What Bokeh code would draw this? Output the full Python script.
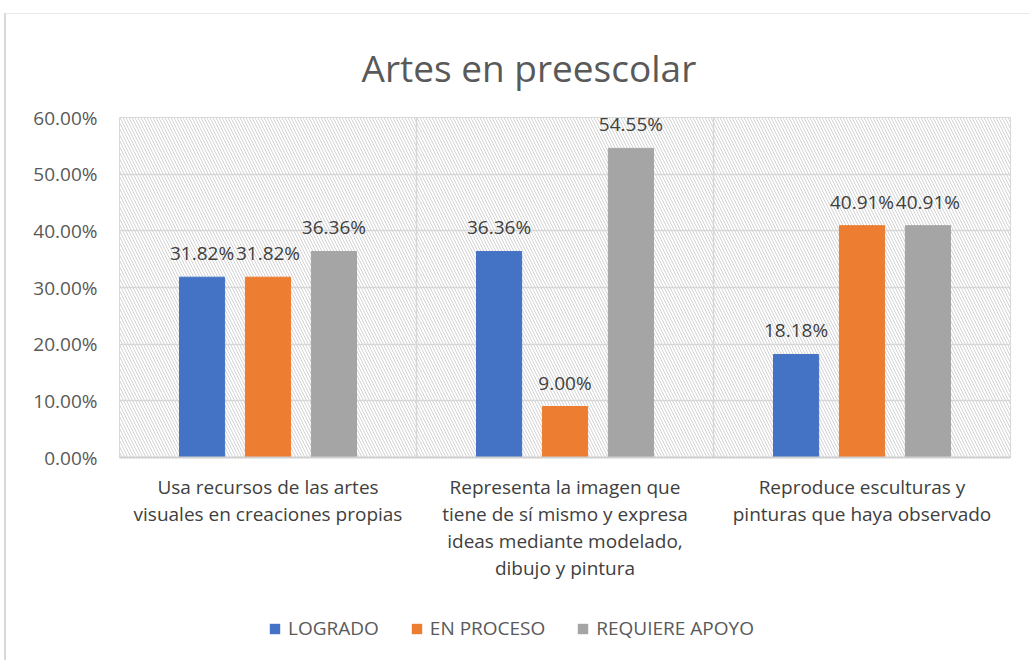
from bokeh.plotting import figure
from bokeh.layouts import column
from bokeh.models import (ColumnDataSource, Legend, LegendItem, BoxAnnotation,
                          FixedTicker, NumeralTickFormatter, Range1d, LabelSet)
from bokeh.embed import file_html
from bokeh.resources import INLINE
from bokeh.core.properties import value

categories = [
    "Usa recursos de las artes\nvisuales en creaciones propias",
    "Representa la imagen que\ntiene de sí mismo y expresa\nideas mediante modelado,\ndibujo y pintura",
    "Reproduce esculturas y\npinturas que haya observado",
]
series_names = ["LOGRADO", "EN PROCESO", "REQUIERE APOYO"]
logrado = [31.82, 36.36, 18.18]
en_proceso = [31.82, 9.00, 40.91]
requiere_apoyo = [36.36, 54.55, 40.91]
y_ticks = [0, 10, 20, 30, 40, 50, 60]

colors = ["#4472C4", "#ED7D31", "#A5A5A5"]
FONT = "Open Sans"
series = [logrado, en_proceso, requiere_apoyo]
offsets = [-0.222, 0.0, 0.222]

p = figure(frame_width=891, frame_height=340, output_backend="svg", toolbar_location=None,
           x_range=Range1d(-0.5, 2.5), y_range=Range1d(0, 60),
           min_border_left=113, min_border_right=19, min_border_top=103,
           min_border_bottom=136, title="Artes en preescolar")

p.title.text_font = FONT
p.title.text_font_size = "37px"
p.title.text_font_style = "normal"
p.title.text_color = "#595959"
p.title.align = "left"
p.title.offset = 242
p.title.standoff = 50

p.background_fill_color = "white"
p.border_fill_color = "white"
p.outline_line_color = "#d9d9d9"
p.outline_line_width = 1

hatch = BoxAnnotation(fill_alpha=0, line_alpha=0, hatch_pattern="\\",
                      hatch_color="#d3d3d3", hatch_scale=6, hatch_weight=1,
                      level="underlay")
p.add_layout(hatch)

for name, vals, off, col in zip(series_names, series, offsets, colors):
    src = ColumnDataSource(dict(
        x=[i + off for i in range(len(vals))],
        top=vals,
        lab=["%.2f%%" % v for v in vals],
    ))
    p.vbar(x="x", top="top", width=0.152, source=src, fill_color=col,
           line_color=col)
    lbl = LabelSet(x="x", y="top", text="lab", source=src, text_align="center",
                   text_baseline="bottom", y_offset=11, text_font=value(FONT),
                   text_font_size="19px", text_color="#404040")
    p.add_layout(lbl)

p.yaxis.ticker = FixedTicker(ticks=y_ticks)
p.yaxis.formatter = NumeralTickFormatter(format="0.00")
p.yaxis.major_label_overrides = {t: "%.2f%%" % t for t in y_ticks}
p.yaxis.axis_line_color = None
p.yaxis.major_tick_line_color = None
p.yaxis.minor_tick_line_color = None
p.yaxis.major_label_text_font = FONT
p.yaxis.major_label_text_font_size = "19px"
p.yaxis.major_label_text_color = "#595959"
p.yaxis.major_label_standoff = 16

p.xaxis.ticker = FixedTicker(ticks=[0, 1, 2])
p.xaxis.major_label_overrides = {i: c for i, c in enumerate(categories)}
p.xaxis.axis_line_color = "#d0d0d0"
p.xaxis.axis_line_width = 2
p.xaxis.major_tick_line_color = None
p.xaxis.minor_tick_line_color = None
p.xaxis.major_label_text_font = FONT
p.xaxis.major_label_text_font_size = "19px"
p.xaxis.major_label_text_line_height = 1.05
p.xaxis.major_label_text_color = "#404040"
p.xaxis.major_label_standoff = 10

p.ygrid.ticker = FixedTicker(ticks=y_ticks)
p.ygrid.grid_line_color = "#d9d9d9"
p.ygrid.grid_line_width = 1.5
p.xgrid.ticker = FixedTicker(ticks=[0.5, 1.5])
p.xgrid.grid_line_color = "#d9d9d9"
p.xgrid.grid_line_width = 1.5

# legend strip below the chart
lg = figure(width=1023, height=67, output_backend="svg", toolbar_location=None,
            x_range=Range1d(0, 1), y_range=Range1d(0, 1),
            min_border=0, outline_line_color=None)
lg.axis.visible = False
lg.axis.axis_line_color = None
lg.grid.visible = False
lg.border_fill_color = "white"
lg.background_fill_color = "white"
items = []
for name, col in zip(series_names, colors):
    r = lg.vbar(x=[0.5], top=[0], bottom=[0], width=0.0, fill_color=col,
                line_alpha=0)
    items.append(LegendItem(label=name, renderers=[r]))
legend = Legend(items=items, orientation="horizontal", location=(149, 19),
                label_text_font=FONT, label_text_font_size="19px",
                label_text_color="#595959", glyph_width=13, glyph_height=13,
                spacing=31, label_standoff=7, border_line_color=None,
                background_fill_alpha=0, margin=0, padding=10)
lg.add_layout(legend, "center")

layout = column(p, lg, spacing=0, margin=(13, 0, 0, 4),
                styles={"border-left": "2px solid #d9d9d9",
                        "border-top": "1px solid #e8e8e8"})

open("out.html", "w").write(file_html(layout, INLINE))
